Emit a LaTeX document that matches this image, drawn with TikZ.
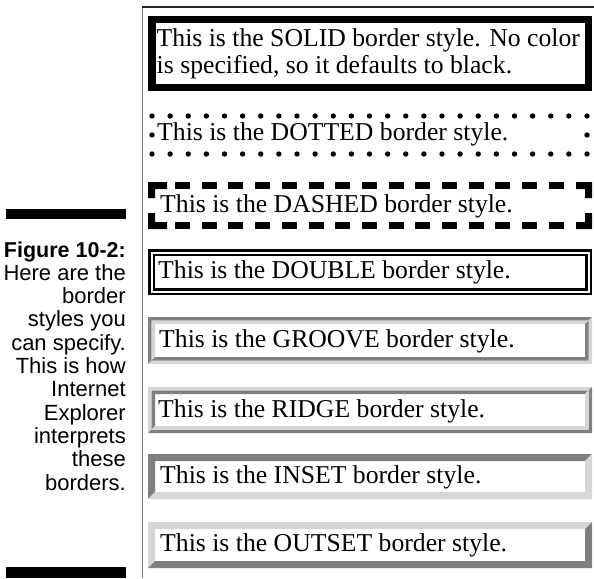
\documentclass[tikz,border=0pt]{standalone}
\usepackage{fontspec}
\setmainfont{Liberation Serif}
\newfontfamily\capfont{Liberation Sans}
\usepackage{tikz}

\definecolor{bevdark}{gray}{0.5}
\definecolor{bevlight}{gray}{0.84}
\definecolor{framegray}{gray}{0.5}

% 3D border: left, top, right, bottom, width, top-left colour, bottom-right colour
\newcommand\bevelframe[7]{%
  \fill[#6] (#1,#2) -- (#3,#2) -- ({#3-#5},{#2+#5}) -- ({#1+#5},{#2+#5}) -- ({#1+#5},{#4-#5}) -- (#1,#4) -- cycle;
  \fill[#7] (#3,#4) -- (#1,#4) -- ({#1+#5},{#4-#5}) -- ({#3-#5},{#4-#5}) -- ({#3-#5},{#2+#5}) -- (#3,#2) -- cycle;}

\begin{document}
\begin{tikzpicture}[
    x=1pt, y=-1pt,
    boxtext/.style={font=\fontsize{25.7}{28}\selectfont, anchor=base west, inner sep=0pt},
    captext/.style={font=\capfont\fontsize{22}{24}\selectfont, anchor=base east, inner sep=0pt},
    bar/.style={fill=black}
]
\useasboundingbox (0,0) rectangle (594,578);

% page frame
\draw[framegray, line width=1.5pt] (142.5,7) -- (142.5,578);
\draw[black!85, line width=1.5pt] (141.75,7) -- (594,7);

% caption
\fill[bar] (6,209) rectangle (126,219);
\fill[bar] (6,567) rectangle (126,578);
\node[captext, font=\capfont\bfseries\fontsize{21.5}{24}\selectfont] (cap0) at (126,257) {Figure 10-2:};
\foreach \i/\t in {1/Here are the, 2/border, 3/styles you, 4/can specify., 5/This is how,
                   6/Internet, 7/Explorer, 8/interprets, 9/these, 10/borders.} {
    \node[captext] (cap\i) at (126,257+23.3*\i) {\t};
}

% solid
\draw[line width=7.5pt] (151.75,19.75) rectangle (588.25,87.25);
\node[boxtext] (solid1) at (156.5,47) {This is the SOLID border style. No color};
\node[boxtext] (solid2) at (156.5,74) {is specified, so it defaults to black.};

% dotted
\foreach \k in {0,...,24} {
    \fill (152+18.125*\k,116) circle (2.7);
    \fill (152+18.125*\k,154) circle (2.7);
}
\fill (152,135) circle (2.7);
\fill (587,135) circle (2.7);
\node[boxtext] (dotted) at (157,140) {This is the DOTTED border style.};

% dashed
\fill (148,182) -- (167,182) -- (167,189) -- (155,189) -- (155,198) -- (148,198) -- cycle;
\fill (148,229) -- (167,229) -- (167,222) -- (155,222) -- (155,213) -- (148,213) -- cycle;
\fill (592,182) -- (576,182) -- (576,189) -- (585,189) -- (585,198) -- (592,198) -- cycle;
\fill (592,229) -- (576,229) -- (576,222) -- (585,222) -- (585,213) -- (592,213) -- cycle;
\foreach \k in {0,...,14} {
    \fill (175+26.7*\k,182) rectangle ++(15,7);
    \fill (175+26.7*\k,222) rectangle ++(15,7);
}
\node[boxtext] (dashed) at (160,212) {This is the DASHED border style.};

% double
\draw[line width=2.5pt] (149.25,250.25) rectangle (590.75,293.75);
\draw[line width=2.5pt] (153.75,254.75) rectangle (586.25,289.25);
\node[boxtext] (double) at (158,278) {This is the DOUBLE border style.};

% groove
\bevelframe{148}{317}{592}{364}{3.5}{bevdark}{bevlight}
\bevelframe{151.5}{320.5}{588.5}{360.5}{3.5}{bevlight}{bevdark}
\node[boxtext] (groove) at (159,347) {This is the GROOVE border style.};

% ridge
\bevelframe{148}{387}{592}{433}{3.5}{bevlight}{bevdark}
\bevelframe{151.5}{390.5}{588.5}{429.5}{3.5}{bevdark}{bevlight}
\node[boxtext] (ridge) at (158,417) {This is the RIDGE border style.};

% inset
\bevelframe{148}{454}{592}{499}{7}{bevdark}{bevlight}
\node[boxtext] (inset) at (160,483) {This is the INSET border style.};

% outset
\bevelframe{148}{522}{592}{568}{7}{bevlight}{bevdark}
\node[boxtext] (outset) at (160,551) {This is the OUTSET border style.};

\end{tikzpicture}
\end{document}
